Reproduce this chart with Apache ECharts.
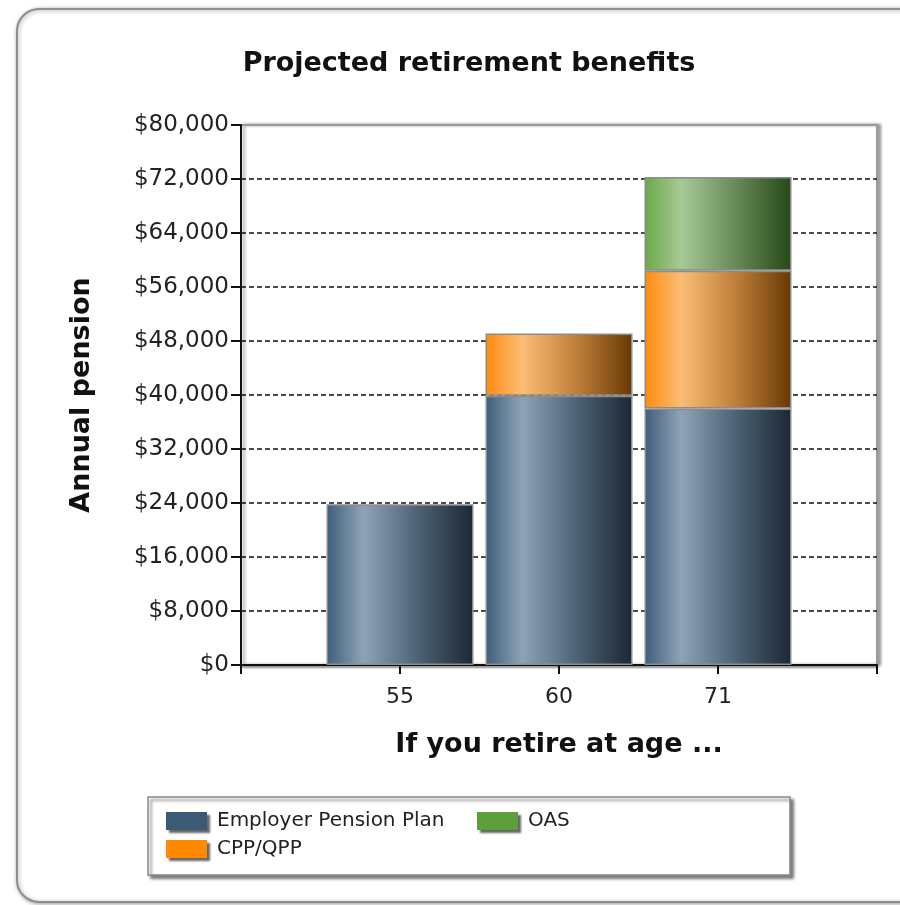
<!DOCTYPE html>
<html>
<head>
<meta charset="utf-8">
<script src="https://cdn.jsdelivr.net/npm/echarts@6/dist/echarts.min.js"></script>
<style>
html,body{margin:0;padding:0;background:#fff;}
#chart{width:900px;height:905px;}
</style>
</head>
<body>
<div id="chart"></div>
<script>
const ages = ['', '55', '60', '71', ' '];
const employerPension = [null, 23800, 39900, 38000, null];
const cppQpp = [null, null, 9200, 20400, null];
const oas = [null, null, null, 13900, null];
const yTicks = { min: 0, max: 80000, interval: 8000 };
const seriesNames = ['Employer Pension Plan', 'CPP/QPP', 'OAS'];

const grad = (stops) => new echarts.graphic.LinearGradient(0, 0, 1, 0,
  stops.map((c, i) => ({ offset: [0, 0.25, 0.62, 1][i], color: c })));

const barBorder = { borderColor: '#8c8c8c', borderWidth: 1.5 };
const fontMain = '"DejaVu Sans", Verdana, sans-serif';

const chart = echarts.init(document.getElementById('chart'));
chart.setOption({
  animation: false,
  backgroundColor: '#fff',
  title: {
    text: 'Projected retirement benefits',
    left: 464, top: 45, textAlign: 'center',
    textStyle: { fontFamily: fontMain, fontWeight: 'bold', fontSize: 27, color: '#111' }
  },
  graphic: [
    {
      type: 'rect', z: -10,
      shape: { x: 17, y: 9, width: 910, height: 893, r: 22 },
      style: { fill: '#fff', stroke: '#8e8e8e', lineWidth: 2,
        shadowBlur: 4, shadowColor: 'rgba(0,0,0,0.35)', shadowOffsetX: 1, shadowOffsetY: 1 }
    },
    {
      type: 'rect', z: 1,
      shape: { x: 148, y: 797, width: 642, height: 78 },
      style: { fill: '#fff', stroke: '#888', lineWidth: 1.5,
        shadowBlur: 3, shadowColor: 'rgba(0,0,0,0.5)', shadowOffsetX: 3, shadowOffsetY: 3 }
    }
  ],
  legend: [
    {
      data: [
        { name: seriesNames[0], itemStyle: { color: '#3b5a76' } },
        { name: seriesNames[1], itemStyle: { color: '#ff8a00' } }
      ],
      orient: 'vertical', left: 161, top: 806, z: 5,
      itemWidth: 41, itemHeight: 18, itemGap: 8,
      icon: 'rect',
      itemStyle: { borderWidth: 0, shadowBlur: 2, shadowColor: 'rgba(0,0,0,0.6)', shadowOffsetX: 3, shadowOffsetY: 3 },
      textStyle: { fontFamily: fontMain, fontSize: 20, color: '#222', padding: [0, 0, 0, 5] }
    },
    {
      data: [ { name: seriesNames[2], itemStyle: { color: '#5f9f3b' } } ],
      orient: 'vertical', left: 472, top: 806, z: 5,
      itemWidth: 41, itemHeight: 18, itemGap: 8,
      icon: 'rect',
      itemStyle: { borderWidth: 0, shadowBlur: 2, shadowColor: 'rgba(0,0,0,0.6)', shadowOffsetX: 3, shadowOffsetY: 3 },
      textStyle: { fontFamily: fontMain, fontSize: 20, color: '#222', padding: [0, 0, 0, 5] }
    }
  ],
  grid: {
    left: 241, right: 23, top: 125, bottom: 240,
    show: true, backgroundColor: '#fff', borderColor: '#9a9a9a', borderWidth: 2,
    shadowBlur: 3, shadowColor: 'rgba(0,0,0,0.35)', shadowOffsetX: 3, shadowOffsetY: 0
  },
  xAxis: {
    type: 'category', data: ages, boundaryGap: false,
    name: 'If you retire at age ...', nameLocation: 'middle', nameGap: 66,
    nameTextStyle: { fontFamily: fontMain, fontWeight: 'bold', fontSize: 27, color: '#111' },
    axisLine: { lineStyle: { color: '#111', width: 2, shadowBlur: 2, shadowColor: 'rgba(0,0,0,0.4)', shadowOffsetY: 2 } },
    axisTick: { show: true, length: 9, alignWithLabel: true, lineStyle: { color: '#111', width: 2 } },
    axisLabel: { margin: 21, fontFamily: fontMain, fontSize: 22, color: '#222' },
    splitLine: { show: false }
  },
  yAxis: {
    type: 'value', min: yTicks.min, max: yTicks.max, interval: yTicks.interval,
    name: 'Annual pension', nameLocation: 'middle', nameGap: 146, nameRotate: 90,
    nameTextStyle: { fontFamily: fontMain, fontWeight: 'bold', fontSize: 27, color: '#111' },
    axisLine: { show: true, lineStyle: { color: '#111', width: 2 } },
    axisTick: { show: true, length: 10, lineStyle: { color: '#111', width: 2 } },
    axisLabel: {
      margin: 12, fontFamily: fontMain, fontSize: 23, color: '#222',
      formatter: v => '$' + v.toLocaleString('en-US')
    },
    splitLine: { show: true, showMinLine: false, showMaxLine: false,
      lineStyle: { color: '#111', width: 1.5, type: [5, 3] } }
  },
  series: [
    {
      name: seriesNames[0], type: 'bar', stack: 'total', barWidth: 147, data: employerPension,
      itemStyle: Object.assign({ color: grad(['#3e5e7b', '#8fa3b6', '#4d6274', '#1c2733']) }, barBorder)
    },
    {
      name: seriesNames[1], type: 'bar', stack: 'total', barWidth: 147, data: cppQpp,
      itemStyle: Object.assign({ color: grad(['#ff8a0c', '#fbbd76', '#bf7f3a', '#683904']) }, barBorder)
    },
    {
      name: seriesNames[2], type: 'bar', stack: 'total', barWidth: 147, data: oas,
      itemStyle: Object.assign({ color: grad(['#6aa847', '#a7c995', '#688a57', '#264819']) }, barBorder)
    }
  ]
});
</script>
</body>
</html>
